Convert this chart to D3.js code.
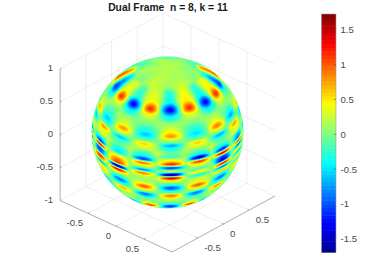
<!DOCTYPE html>
<html><head><meta charset="utf-8">
<script src="https://cdn.jsdelivr.net/npm/d3@7/dist/d3.min.js"></script>
<style>html,body{margin:0;padding:0;background:#fff}svg{display:block}text{font-family:"Liberation Sans",Arial,sans-serif}</style>
</head><body><svg id="c" width="383" height="276"></svg>
<script>
const titleText = "Dual Frame  n = 8, k = 11";
const xyTicks = [-0.5, 0, 0.5];
const zTicks = [-1, -0.5, 0, 0.5, 1];
const colorTicks = [-1.5, -1, -0.5, 0, 0.5, 1, 1.5];
const colorDomain = [-1.7, 1.73];
const jetStops = ["#00008f", "#0000ff", "#00ffff", "#ffff00", "#ff0000", "#800000"];
const jetPositions = [0, 0.125, 0.375, 0.625, 0.875, 1];

// sphere longitudes relative to the viewer, latitudes of the table rows
const longitudes = [-118,-107,-96,-85,-74,-63,-52,-41,-30,-19,-8,3,14,25,36,47,58,69,80,91,102,113,124];
const latitudes = [62,54,47,41,36,31,27,23,20,17,14,11,8,5,2,-1,-4,-7,-10,-13,-17,-22,-26,-33,-39,-46,-56];
const surfaceValues = [
 [0.1,0.7,0.3,-0.5,0.1,0.3,0.2,-0.2,0.2,0.3,0.1,-0.3,0.1,0.4,0.1,-0.3,0.2,0.4,0.2,-0.4,0.3,0.8,-0.1],
 [-0.3,1,0.2,-0.8,0,0.4,0.1,-0.3,0.2,0.4,0.1,-0.4,0.2,0.5,0.1,-0.4,0.1,0.5,0.1,-0.8,0.2,0.9,-0.2],
 [-0.3,1,0,-1.1,-0.1,1.15,0,-1.3,0,1.15,-0.1,-1.3,0,1.15,0,-1.3,0,1.15,0,-1.1,0,1,-0.2],
 [-0.1,0.3,0.1,-0.4,0,0.3,0,-0.4,0,0.3,0,-0.4,0,0.3,0,-0.4,0,0.3,0,-0.3,0.1,0.3,0],
 [0,-0.1,0,0.1,0.2,-0.1,0.1,0.1,0,0,0.1,0.1,0.1,0,0.1,0.1,0,0,0.1,0,0,0,0],
 [0,0,0,0.3,0,-0.3,0,0.3,0,-0.3,0,0.4,0,-0.3,0,0.4,0,-0.3,0,0.2,0,0,0],
 [0,0,-0.3,0.7,0,-0.6,0,0.8,0,-0.6,0,0.8,0,-0.5,0,0.9,0,-0.7,0,0.6,0,0,0],
 [0,0,0,0.2,0,-0.2,0,0.2,0,-0.1,0,0.1,0,-0.1,0,0.2,0,-0.1,0,0.1,0,0,0],
 [0,0,0.1,-0.6,0,0.8,0,-0.6,0,0.6,0,-0.7,0,0.6,0,-0.7,0,0.8,0,-0.6,0,0,0],
 [0,0,0,-0.3,0.1,0.4,0.1,-0.2,0.1,0.3,0.1,-0.3,0.1,0.3,0.1,-0.2,0.1,0.4,0.1,-0.3,0,0,0],
 [0,0,-0.2,0.3,0.1,0.3,0.2,-0.1,0.2,-0.1,0.3,-0.1,0.2,-0.1,0.3,-0.1,0.2,0.3,0.1,0.2,0,0,0],
 [0,0,-0.5,0.3,0,-0.4,0.2,-0.4,0.1,-0.4,0.1,-0.2,0.1,-0.4,0.1,-0.4,0.1,-0.6,0.1,-0.4,0,0,0],
 [0,0,0.3,-0.7,0.1,-1.1,0.2,-0.5,0.1,-1.1,0.1,0.5,0.1,-1.5,0.1,-1.2,0.1,-0.9,0.1,-0.6,0,0,0],
 [0,-0.3,-0.3,0.8,0.1,1.3,0.1,0.4,0.1,0.9,0.1,1.2,0.1,1.1,0.1,1.4,0.1,1,0.1,0.8,0,0,0],
 [0,0,0.3,-0.8,0.1,-1.1,0.1,0.9,0.1,0.3,-0.1,-1.1,-0.1,0.4,-0.1,-1.1,0.1,-0.9,0.1,-0.6,0,0,0],
 [0,0,-0.2,0.5,0.1,-0.9,0.1,1.1,0.1,-0.8,0,0.3,0,-0.2,0.1,-1.4,0.1,0.4,0.1,0.3,0,0,0],
 [0,0,0,-0.6,0.1,1.2,0.1,-1.7,0.1,0.9,-0.1,-1.7,0,0.5,0,1.3,0.1,-0.6,0.1,0,0,0,0],
 [0,0,0,0.4,0.1,0.8,0.1,1.3,0.1,0.2,0.2,1.4,0.1,-0.4,0.1,-0.9,0.1,0.5,0,0,0,0,0],
 [0,0,0,-0.2,0.1,-0.8,0.1,0.3,0.1,0.1,0.1,0.4,0.1,0.3,0.1,0.7,0.1,-0.3,0,0,0,0,0],
 [0,0,0,0,0.2,0.4,0.1,-0.3,0.1,0.3,0,-0.2,0.1,0.3,0.1,-0.3,0.1,0.3,0,0,0,0,0],
 [0,0,0,0,-0.2,0.6,0,-0.9,0,1,0,-1,0,1,0,-0.9,0.1,0.3,0,0,0,0,0],
 [0,0,0,0,-0.1,0.1,0,-0.2,0,0.2,0,-0.2,0,0.2,0,-0.2,0,0,0,0,0,0,0],
 [0,0,0,0,0,-0.6,0,0.7,0,-0.9,0,0.9,0,-0.9,0,0.8,0,-0.2,0,0,0,0,0],
 [0,0,0,0,0,-0.1,0,0.1,0.1,-0.1,0.1,0.2,0.1,-0.1,0.1,0.1,0,0,0,0,0,0,0],
 [0,0,0,0,0,-0.3,-0.1,0.2,-0.2,0.2,-0.1,-0.2,-0.1,0.2,-0.2,0.2,-0.2,-0.2,0,0,0,0,0],
 [0,0,0,0,0,-0.2,-0.2,-0.7,0,1.1,-0.1,-1.2,-0.1,1.1,-0.1,-0.8,-0.2,-0.2,0,0,0,0,0],
 [0,0,0,0,0,-0.3,-0.3,-0.3,-0.3,-0.2,-0.3,-0.3,-0.3,-0.2,-0.3,-0.3,-0.3,-0.3,0,0,0,0,0]
];
// polar cap: rings of twelve sectors, starting at longitude -180
const capLatitudes = [90, 78, 66];
const capValues = [
 [0.2,0.2,0.2,0.2,0.2,0.2,0.2,0.2,0.2,0.2,0.2,0.2],
 [0.1,0.2,0,0.2,0.1,0.2,0.2,0.1,0.2,0,0.2,0.1],
 [-0.2,0,-0.2,0.1,0,0.3,0.1,0.3,0,0.1,-0.2,0]
];
const limbValue = -0.35;

const svg = d3.select("#c");
const view = { cx: 167.5, cy: 132.5, az: 42.6 * Math.PI / 180, el: 30 * Math.PI / 180, r: 76 };
const sx = d3.scaleLinear().domain([-1, 1]).range([view.cx - view.r, view.cx + view.r]);
const sy = d3.scaleLinear().domain([-1, 1]).range([view.cy + view.r, view.cy - view.r]);
const proj3 = (x, y, z) => {
  const h = x * Math.cos(view.az) + y * Math.sin(view.az);
  const v = (-x * Math.sin(view.az) + y * Math.cos(view.az)) * Math.sin(view.el) + z * Math.cos(view.el);
  return [sx(h), sy(v)];
};
const jet = d3.scaleLinear().domain(jetPositions).range(jetStops).interpolate(d3.interpolateRgb).clamp(true);
const color = v => jet((v - colorDomain[0]) / (colorDomain[1] - colorDomain[0]));

const gridColor = "#e8e8e8", axisColor = "#8c8c8c", textColor = "#4a4a4a";
const line3 = (a, b, stroke) => {
  const p = proj3(...a), q = proj3(...b);
  svg.append("line").attr("x1", p[0]).attr("y1", p[1]).attr("x2", q[0]).attr("y2", q[1])
    .attr("stroke", stroke).attr("stroke-width", 0.7);
};
xyTicks.forEach(t => {
  line3([t, -1, -1], [t, 1, -1], gridColor);
  line3([-1, t, -1], [1, t, -1], gridColor);
  line3([-1, t, -1], [-1, t, 1], gridColor);
  line3([t, 1, -1], [t, 1, 1], gridColor);
});
zTicks.forEach(t => {
  line3([-1, -1, t], [-1, 1, t], gridColor);
  line3([-1, 1, t], [1, 1, t], gridColor);
});
line3([-1, 1, -1], [-1, 1, 1], gridColor);

line3([-1, -1, -1], [-1, -1, 1], axisColor);
line3([-1, -1, -1], [1, -1, -1], axisColor);
line3([1, -1, -1], [1, 1, -1], axisColor);
const label = (x, y, s, anchor) => svg.append("text").attr("x", x).attr("y", y).attr("text-anchor", anchor)
  .attr("dominant-baseline", "central").attr("font-size", 9.6).attr("fill", textColor).text(s);
const fmt = d => String(d);
zTicks.forEach(t => {
  line3([-1, -1, t], [-1, -0.97, t], axisColor);
  const p = proj3(-1, -1, t);
  label(p[0] - 7, p[1] - 1, fmt(t), "end");
});
xyTicks.forEach(t => {
  line3([t, -1, -1], [t, -0.97, -1], axisColor);
  let p = proj3(t, -1, -1);
  label(p[0] - 5, p[1] + 9.5, fmt(t), "end");
  line3([1, t, -1], [0.97, t, -1], axisColor);
  p = proj3(1, t, -1);
  label(p[0] + 6.5, p[1] + 9.5, fmt(t), "start");
});

// sphere: every pixel of the disc is inverted through the orthographic projection, then shaded from the table
const projection = d3.geoOrthographic().scale(view.r).translate([view.cx, view.cy]).rotate([0, -30, 0]).clipAngle(90);
const latAsc = latitudes.slice().reverse();
const ease = u => u * u * (3 - 2 * u);
const fracIndex = (arr, v) => {
  const i = Math.min(arr.length - 2, Math.max(0, d3.bisectRight(arr, v) - 1));
  return [i, Math.max(0, Math.min(1, (v - arr[i]) / (arr[i + 1] - arr[i])))];
};
const tableValue = (lon, lat) => {
  // odd columns hold the crests, so shading keeps a broad plateau around them
  const [i, raw] = fracIndex(longitudes, lon);
  const u = i % 2 ? Math.pow(raw, 1.8) : 1 - Math.pow(1 - raw, 1.8);
  const [j0, rawLat] = fracIndex(latAsc, lat);
  const t = ease(rawLat);
  const hi = surfaceValues[latitudes.length - 1 - j0], lo = surfaceValues[latitudes.length - 2 - j0];
  const a = hi[i] * (1 - u) + hi[i + 1] * u, b = lo[i] * (1 - u) + lo[i + 1] * u;
  return a * (1 - t) + b * t;
};
const capValue = (lon, lat) => {
  const n = capValues[0].length, w = 360 / n;
  const p = ((lon + 180) % 360 + 360) % 360 / w, i = Math.floor(p) % n, k = (i + 1) % n, u = p - Math.floor(p);
  const y = Math.min(capLatitudes.length - 2, Math.floor((90 - lat) / 12)), t = Math.min(1, (capLatitudes[y] - lat) / 12);
  const a = capValues[y][i] * (1 - u) + capValues[y][k] * u, b = capValues[y + 1][i] * (1 - u) + capValues[y + 1][k] * u;
  return a * (1 - t) + b * t;
};
const lonMin = longitudes[0], lonMax = longitudes[longitudes.length - 1];
const fieldValue = (lon, lat) => {
  const inLon = lon >= lonMin && lon <= lonMax;
  if (lat >= capLatitudes[2]) return capValue(lon, lat);
  if (inLon && lat >= latitudes[0]) {
    const t = (lat - latitudes[0]) / (capLatitudes[2] - latitudes[0]);
    return tableValue(lon, latitudes[0]) * (1 - t) + capValue(lon, capLatitudes[2]) * t;
  }
  if (inLon && lat >= latitudes[latitudes.length - 1]) return tableValue(lon, lat);
  return lat > 30 ? capValue(lon, capLatitudes[2]) : limbValue;
};
const x0 = Math.floor(view.cx - view.r) - 2, y0 = Math.floor(view.cy - view.r) - 2, size = 2 * view.r + 5;
const canvas = document.createElement("canvas");
canvas.width = canvas.height = size;
const ctx = canvas.getContext("2d");
const img = ctx.createImageData(size, size);
for (let py = 0; py < size; py++) for (let px = 0; px < size; px++) {
  const sxx = x0 + px + 0.5, syy = y0 + py + 0.5;
  const dx = sxx - view.cx, dy = syy - view.cy, rr = Math.min(Math.hypot(dx, dy), view.r * 0.9995);
  const k = rr / (Math.hypot(dx, dy) || 1);
  const ll = projection.invert([view.cx + dx * k, view.cy + dy * k]);
  const c = d3.rgb(color(fieldValue(ll[0], ll[1])));
  const o = (py * size + px) * 4;
  img.data[o] = c.r; img.data[o + 1] = c.g; img.data[o + 2] = c.b; img.data[o + 3] = 255;
}
ctx.putImageData(img, 0, 0);
const defs = svg.append("defs");
defs.append("filter").attr("id", "soft").attr("x", "-5%").attr("y", "-5%").attr("width", "110%").attr("height", "110%")
  .append("feGaussianBlur").attr("stdDeviation", 0.7);
defs.append("clipPath").attr("id", "disc").append("circle").attr("cx", view.cx).attr("cy", view.cy).attr("r", view.r);
svg.append("g").attr("clip-path", "url(#disc)").append("image")
  .attr("x", x0).attr("y", y0).attr("width", size).attr("height", size)
  .attr("href", canvas.toDataURL()).attr("filter", "url(#soft)");

// colorbar
const barX = 321.5, barW = 14.5;
const barY = d3.scaleLinear().domain(colorDomain).range([252.5, 14]);
const levels = d3.range(64);
svg.append("g").selectAll("rect").data(levels).join("rect")
  .attr("x", barX).attr("width", barW)
  .attr("y", i => barY(colorDomain[0] + (i + 1) / 64 * (colorDomain[1] - colorDomain[0])))
  .attr("height", (barY.range()[0] - barY.range()[1]) / 64 + 0.5)
  .attr("fill", i => jet((i + 0.5) / 64));
svg.append("rect").attr("x", barX).attr("y", 14).attr("width", barW).attr("height", 238.5)
  .attr("fill", "none").attr("stroke", "#9a9a9a").attr("stroke-width", 0.6);
colorTicks.forEach(t => {
  const y = barY(t);
  svg.append("line").attr("x1", barX + barW - 2).attr("x2", barX + barW).attr("y1", y).attr("y2", y).attr("stroke", "#555").attr("stroke-width", 0.6);
  label(barX + barW + 4.5, y, fmt(t), "start");
});

svg.append("text").attr("x", 168).attr("y", 7).attr("text-anchor", "middle").attr("dominant-baseline", "central")
  .attr("font-size", 10.3).attr("font-weight", "bold").attr("fill", "#1a1a1a").style("white-space", "pre").text(titleText);
</script></body></html>
